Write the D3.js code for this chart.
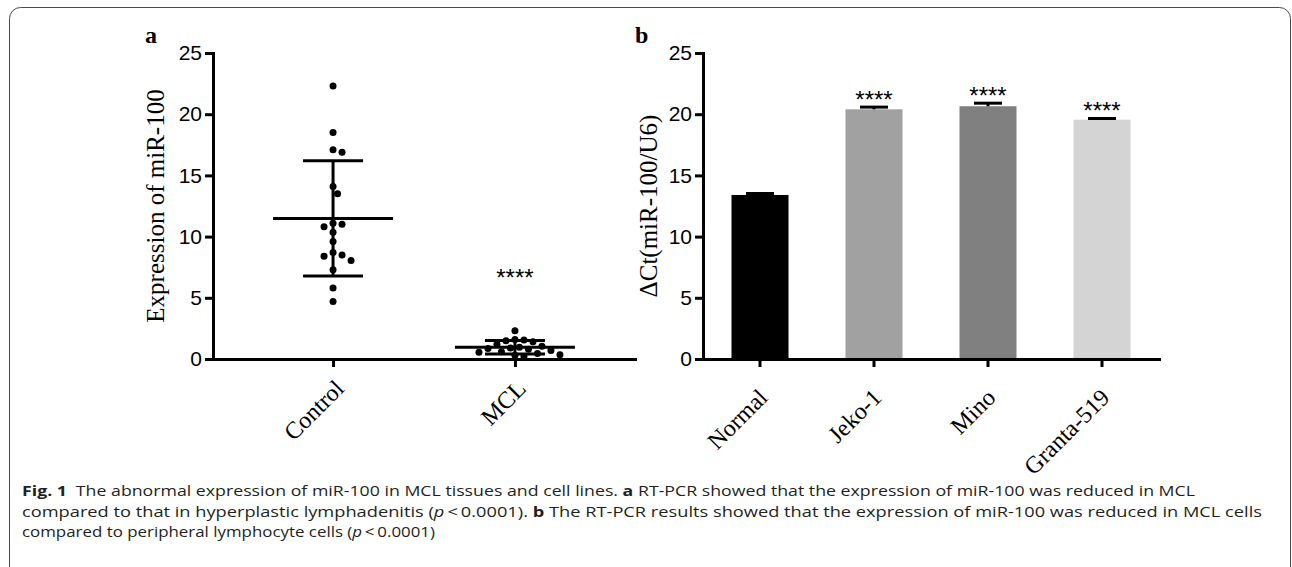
<!DOCTYPE html>
<html>
<head>
<meta charset="utf-8">
<script src="https://cdn.jsdelivr.net/npm/d3@7"></script>
<style>
  body { margin: 0; background: #fff; }
  svg { display: block; }
</style>
</head>
<body>
<svg width="1292" height="567"></svg>
<script>
// panel a: individual expression values
const groupsA = ["Control", "MCL"];
const controlValues = [22.3, 18.5, 17.1, 16.9, 14.1, 13.5, 11.1, 11.0, 10.8, 10.35, 9.6, 8.7, 8.5, 8.4, 8.05, 7.3, 5.8, 4.7];
const mclValues = [2.3, 1.6, 1.55, 1.5, 1.4, 1.2, 1.05, 0.95, 0.9, 0.85, 0.8, 0.7, 0.6, 0.55, 0.45, 0.35, 0.3, 0.2];
const sigA = ["", "****"];

// panel b: mean +/- SD per cell line
const cellLines = ["Normal", "Jeko-1", "Mino", "Granta-519"];
const cellMeans = [13.4, 20.4, 20.65, 19.55];
const cellSds = [0.12, 0.18, 0.25, 0.1];
const cellColors = ["#000000", "#a1a1a1", "#808080", "#d4d4d4"];
const sigB = ["", "****", "****", "****"];

const yTicks = [0, 5, 10, 15, 20, 25];

const AXIS_W = 3;
const serif = "'Liberation Serif', 'Times New Roman', serif";
const sans = "'Liberation Sans', Arial, sans-serif";

const svg = d3.select("svg");

// rounded frame around the figure
svg.append("rect")
  .attr("x", 9.5)
  .attr("y", 7.5)
  .attr("width", 1281)
  .attr("height", 620)
  .attr("rx", 11)
  .attr("fill", "none")
  .attr("stroke", "#4a4a4a")
  .attr("stroke-width", 1);

const y = d3.scaleLinear().domain([0, 25]).range([359, 53]);

function styleAxis(g) {
  g.select(".domain").attr("stroke-width", AXIS_W).attr("stroke-linecap", "square");
  g.selectAll(".tick line").attr("stroke-width", AXIS_W);
}

function drawYAxis(x0, title, titleX) {
  const g = svg.append("g")
    .attr("transform", `translate(${x0},0)`)
    .call(d3.axisLeft(y).tickValues(yTicks).tickSize(8).tickSizeOuter(0).tickPadding(3));
  styleAxis(g);
  g.selectAll(".tick text")
    .attr("font-family", sans)
    .attr("font-size", 21)
    .attr("fill", "#000");

  svg.append("text")
    .attr("transform", `translate(${titleX},${(y(0) + y(25)) / 2}) rotate(-90)`)
    .attr("text-anchor", "middle")
    .attr("font-family", serif)
    .attr("font-size", 25)
    .text(title);
}

function drawXAxis(scale, dx, dy) {
  const g = svg.append("g")
    .attr("transform", `translate(0,${y(0)})`)
    .call(d3.axisBottom(scale).tickSize(8).tickSizeOuter(0));
  styleAxis(g);
  g.selectAll(".tick text")
    .attr("y", 0)
    .attr("dy", 0)
    .attr("text-anchor", "end")
    .attr("transform", `translate(${dx},${dy}) rotate(-45)`)
    .attr("font-family", serif)
    .attr("font-size", 24)
    .attr("fill", "#000");
}

// ---------- panel a ----------
const xA = d3.scalePoint().domain(groupsA).range([213, 635]).padding(0.66);
const dotR = 3.5;

// simple beeswarm so equal values spread sideways
function swarm(values, xc) {
  const placed = [];
  const step = 4.5;
  const order = values.map((v, i) => i).sort((a, b) => values[b] - values[a]);
  order.forEach((i) => {
    const cy = y(values[i]);
    let k = 0;
    let cx = xc;
    while (true) {
      const off = k === 0 ? 0 : Math.ceil(k / 2) * (k % 2 ? 1 : -1);
      cx = xc + off * step;
      const hit = placed.some((p) => Math.hypot(p.x - cx, p.y - cy) < 2 * dotR + 1.5);
      if (!hit) break;
      k++;
    }
    placed.push({ x: cx, y: cy });
  });
  return placed;
}

[controlValues, mclValues].forEach((vals, gi) => {
  const xc = xA(groupsA[gi]);
  const mean = d3.mean(vals);
  const sd = d3.deviation(vals);

  svg.append("g")
    .selectAll("circle")
    .data(swarm(vals, xc))
    .enter()
    .append("circle")
    .attr("cx", (d) => d.x)
    .attr("cy", (d) => d.y)
    .attr("r", dotR)
    .attr("fill", "#000");

  const eb = svg.append("g").attr("stroke", "#000").attr("stroke-width", 3);
  eb.append("line")
    .attr("x1", xc).attr("x2", xc)
    .attr("y1", y(mean + sd)).attr("y2", y(Math.max(0, mean - sd)));
  eb.append("line")
    .attr("x1", xc - 60).attr("x2", xc + 60)
    .attr("y1", y(mean)).attr("y2", y(mean));
  [mean + sd, mean - sd].forEach((v) => {
    eb.append("line")
      .attr("x1", xc - 30).attr("x2", xc + 30)
      .attr("y1", y(v)).attr("y2", y(v));
  });

  if (sigA[gi]) {
    svg.append("text")
      .attr("x", xc)
      .attr("y", y(6))
      .attr("text-anchor", "middle")
      .attr("font-family", sans)
      .attr("font-size", 24)
      .text(sigA[gi]);
  }
});

drawYAxis(213, "Expression of miR-100", 164);
drawXAxis(xA, 12, 31);

svg.append("text")
  .attr("x", 145).attr("y", 43)
  .attr("font-family", serif)
  .attr("font-weight", "bold")
  .attr("font-size", 24)
  .text("a");

// ---------- panel b ----------
const xB = d3.scaleBand().domain(cellLines).range([703, 1159]).paddingInner(0.5).paddingOuter(0.25);

svg.append("g")
  .selectAll("rect")
  .data(cellLines)
  .enter()
  .append("rect")
  .attr("x", (d) => xB(d))
  .attr("y", (d, i) => y(cellMeans[i]))
  .attr("width", xB.bandwidth())
  .attr("height", (d, i) => y(0) - y(cellMeans[i]))
  .attr("fill", (d, i) => cellColors[i]);

const ebB = svg.append("g").attr("stroke", "#000").attr("stroke-width", 3);
cellLines.forEach((c, i) => {
  const xc = xB(c) + xB.bandwidth() / 2;
  const top = y(cellMeans[i] + cellSds[i]);
  ebB.append("line")
    .attr("x1", xc).attr("x2", xc)
    .attr("y1", y(cellMeans[i])).attr("y2", top);
  ebB.append("line")
    .attr("x1", xc - 14).attr("x2", xc + 14)
    .attr("y1", top).attr("y2", top);
  if (sigB[i]) {
    svg.append("text")
      .attr("x", xc)
      .attr("y", top + 1)
      .attr("text-anchor", "middle")
      .attr("font-family", sans)
      .attr("font-size", 24)
      .text(sigB[i]);
  }
});

drawYAxis(703, "\u0394Ct(miR-100/U6)", 657);
drawXAxis(xB, 9, 40);

svg.append("text")
  .attr("x", 635).attr("y", 43)
  .attr("font-family", serif)
  .attr("font-weight", "bold")
  .attr("font-size", 24)
  .text("b");

// ---------- caption ----------
const capFont = "'Open Sans', 'Noto Sans', sans-serif";
const captionLines = [
  { y: 496, len: 1173, parts: [
    { t: "Fig. 1", b: true },
    { t: "\u2002The abnormal expression of miR-100 in MCL tissues and cell lines. " },
    { t: "a", b: true },
    { t: " RT-PCR showed that the expression of miR-100 was reduced in MCL" }] },
  { y: 517, len: 1240, parts: [
    { t: "compared to that in hyperplastic lymphadenitis (" },
    { t: "p", i: true },
    { t: "\u2009<\u20090.0001). " },
    { t: "b", b: true },
    { t: " The RT-PCR results showed that the expression of miR-100 was reduced in MCL cells" }] },
  { y: 537, len: 413, parts: [
    { t: "compared to peripheral lymphocyte cells (" },
    { t: "p", i: true },
    { t: "\u2009<\u20090.0001)" }] },
];

captionLines.forEach((line) => {
  const t = svg.append("text")
    .attr("x", 22)
    .attr("y", line.y)
    .attr("font-family", capFont)
    .attr("font-size", 15)
    .attr("fill", "#231f20")
    .attr("textLength", line.len)
    .attr("lengthAdjust", "spacingAndGlyphs");
  line.parts.forEach((p) => {
    t.append("tspan")
      .attr("font-weight", p.b ? "bold" : null)
      .attr("font-style", p.i ? "italic" : null)
      .text(p.t);
  });
});
</script>
</body>
</html>
